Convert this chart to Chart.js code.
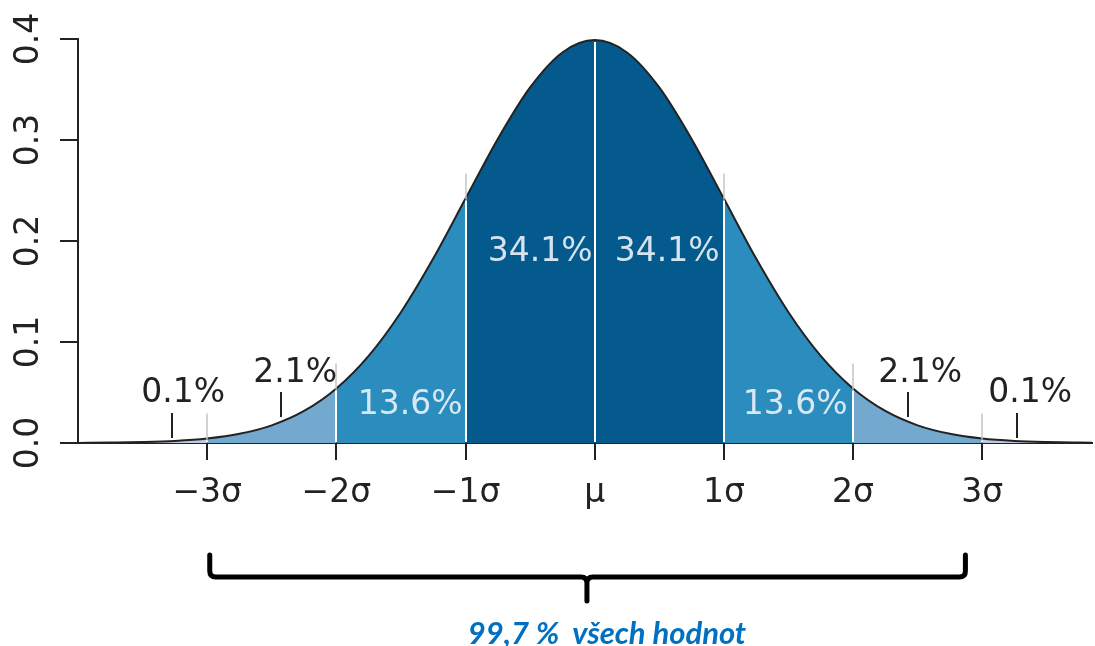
<!DOCTYPE html>
<html>
<head>
<meta charset="utf-8">
<title>Normální rozdělení – pravidlo 3σ</title>
<script src="https://cdn.jsdelivr.net/npm/chart.js@4.4.1/dist/chart.umd.min.js"></script>
<style>
  html, body { margin: 0; padding: 0; background: #fff; }
  #wrap { position: relative; width: 1095px; height: 646px; }
  #note {
    position: absolute; left: 357px; top: 613px; width: 500px;
    text-align: center; white-space: pre;
    font: italic bold 31px Lato, "Open Sans", sans-serif; line-height: 38px;
    color: #0070c0;
  }
</style>
</head>
<body>
<div id="wrap">
  <canvas id="normalChart" width="1095" height="646"></canvas>
  <div id="note">99,7 %  všech hodnot</div>
</div>
<script>
// hustota normálního rozdělení (x v násobcích sigma)
const sigmaX = [-4, -3.75, -3.5, -3.25, -3, -2.75, -2.5, -2.25, -2, -1.75, -1.5, -1.25, -1, -0.75, -0.5, -0.25,
  0, 0.25, 0.5, 0.75, 1, 1.25, 1.5, 1.75, 2, 2.25, 2.5, 2.75, 3, 3.25, 3.5, 3.75, 4];
const density = [0.0001, 0.0004, 0.0009, 0.0020, 0.0044, 0.0091, 0.0175, 0.0317, 0.0540, 0.0863, 0.1295, 0.1826,
  0.2420, 0.3011, 0.3521, 0.3867, 0.3989, 0.3867, 0.3521, 0.3011, 0.2420, 0.1826, 0.1295, 0.0863, 0.0540,
  0.0317, 0.0175, 0.0091, 0.0044, 0.0020, 0.0009, 0.0004, 0.0001];

const xTickValues = [-3, -2, -1, 0, 1, 2, 3];
const xTickLabels = ['−3σ', '−2σ', '−1σ', 'μ', '1σ', '2σ', '3σ'];
const yTickValues = [0, 0.1, 0.2, 0.3, 0.4];
const yTickLabels = ['0.0', '0.1', '0.2', '0.3', '0.4'];

// podíly v jednotlivých pásech
const shareLabels = ['0.1%', '2.1%', '13.6%', '34.1%', '34.1%', '13.6%', '2.1%', '0.1%'];
const bandColors = ['#045a8d', '#2b8cbe', '#74a9cf', '#bdc9e1'];

const inkColor = '#222';
const fontFamily = 'DejaVu Sans';
const fontSize = 33;

function bandColor(m) {
  const a = Math.abs(m);
  return bandColors[a < 1 ? 0 : a < 2 ? 1 : a < 3 ? 2 : 3];
}

// where the percentage labels sit (sigma, density)
const labelSpots = [
  [-3.185, 0.0495], [-2.318, 0.0693], [-1.428, 0.0376], [-0.422, 0.189],
  [0.561, 0.189], [1.552, 0.0376], [2.519, 0.0693], [3.371, 0.0495]
];
const leaders = [
  [-3.27, 0.005, 0.0297], [-2.426, 0.0257, 0.0505], [2.426, 0.0257, 0.0505], [3.27, 0.005, 0.0297]
];

const decorations = {
  id: 'decorations',
  afterDatasetsDraw(chart) {
    const { ctx, scales: { x, y } } = chart;
    const base = y.getPixelForValue(0);
    ctx.save();

    // bílé dělicí čáry a šedé přesahy nad křivkou
    xTickValues.forEach(v => {
      const i = sigmaX.indexOf(v);
      const px = Math.round(x.getPixelForValue(v));
      const top = y.getPixelForValue(density[i]);
      ctx.strokeStyle = '#fff';
      ctx.lineWidth = 2;
      ctx.beginPath();
      ctx.moveTo(px, base - 1);
      ctx.lineTo(px, top + 2);
      ctx.stroke();
      if (v !== 0) {
        ctx.strokeStyle = '#c4c4c4';
        ctx.lineWidth = 1.5;
        ctx.beginPath();
        ctx.moveTo(px, top + 1);
        ctx.lineTo(px, top - 25);
        ctx.stroke();
      }
    });

    // popisky os y (otočené)
    ctx.fillStyle = inkColor;
    ctx.font = fontSize + 'px "' + fontFamily + '"';
    ctx.textAlign = 'center';
    ctx.textBaseline = 'middle';
    yTickValues.forEach((v, i) => {
      ctx.save();
      ctx.translate(29, y.getPixelForValue(v));
      ctx.rotate(-Math.PI / 2);
      ctx.fillText(yTickLabels[i], 0, 0);
      ctx.restore();
    });

    // procenta
    shareLabels.forEach((t, i) => {
      const [sx, sy] = labelSpots[i];
      const inside = t === '13.6%' || t === '34.1%';
      ctx.fillStyle = inside ? 'rgba(235,242,248,0.9)' : inkColor;
      ctx.fillText(t, x.getPixelForValue(sx), y.getPixelForValue(sy));
    });

    ctx.strokeStyle = inkColor;
    ctx.lineWidth = 2;
    leaders.forEach(([sx, y0, y1]) => {
      const px = Math.round(x.getPixelForValue(sx));
      ctx.beginPath();
      ctx.moveTo(px, y.getPixelForValue(y0));
      ctx.lineTo(px, y.getPixelForValue(y1));
      ctx.stroke();
    });

    // složená závorka pod osou
    const l = x.getPixelForValue(-2.98), r = x.getPixelForValue(2.87), c = x.getPixelForValue(-0.06);
    const top = 555, mid = 577, tip = 601;
    ctx.strokeStyle = '#000';
    ctx.lineWidth = 5;
    ctx.lineCap = 'round';
    ctx.lineJoin = 'round';
    ctx.beginPath();
    ctx.moveTo(l, top);
    ctx.lineTo(l, mid - 6);
    ctx.quadraticCurveTo(l, mid, l + 6, mid);
    ctx.lineTo(c - 6, mid);
    ctx.quadraticCurveTo(c, mid, c, mid + 6);
    ctx.lineTo(c, tip);
    ctx.moveTo(c, mid + 6);
    ctx.quadraticCurveTo(c, mid, c + 6, mid);
    ctx.lineTo(r - 6, mid);
    ctx.quadraticCurveTo(r, mid, r, mid - 6);
    ctx.lineTo(r, top);
    ctx.stroke();

    ctx.restore();
  }
};

new Chart(document.getElementById('normalChart').getContext('2d'), {
  type: 'line',
  data: {
    datasets: [{
      data: sigmaX.map((v, i) => ({ x: v, y: density[i] })),
      borderColor: inkColor,
      borderWidth: 2,
      pointRadius: 0,
      cubicInterpolationMode: 'monotone',
      fill: 'origin',
      backgroundColor: bandColors[0],
      segment: {
        backgroundColor: c => bandColor((c.p0.parsed.x + c.p1.parsed.x) / 2)
      }
    }]
  },
  options: {
    responsive: false,
    animation: false,
    layout: { padding: { top: 39, right: 3, bottom: 123, left: 0 } },
    plugins: { legend: { display: false }, tooltip: { enabled: false } },
    scales: {
      x: {
        type: 'linear',
        min: -4.0,
        max: 3.85,
        afterBuildTicks: s => { s.ticks = xTickValues.map(v => ({ value: v })); },
        afterFit: s => { s.height = 80; },
        grid: { drawOnChartArea: false, drawTicks: true, tickLength: 17, color: inkColor, lineWidth: 2 },
        border: { display: true, color: inkColor, width: 2 },
        ticks: {
          autoSkip: false, maxRotation: 0, padding: 14, color: inkColor,
          font: { family: fontFamily, size: fontSize },
          callback: (value, index) => xTickLabels[index]
        }
      },
      y: {
        min: 0,
        max: 0.4,
        afterBuildTicks: s => { s.ticks = yTickValues.map(v => ({ value: v })); },
        afterFit: s => { s.width = 78; },
        grid: { drawOnChartArea: false, drawTicks: true, tickLength: 18, color: inkColor, lineWidth: 2 },
        border: { display: true, color: inkColor, width: 2 },
        ticks: { display: false }
      }
    }
  },
  plugins: [decorations]
});
</script>
</body>
</html>
